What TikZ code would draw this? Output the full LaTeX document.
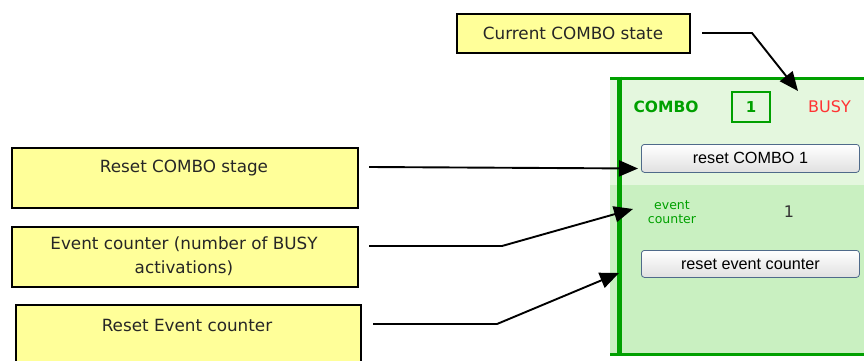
\documentclass[tikz,border=0pt]{standalone}
\usepackage{fontspec}
\setmainfont{DejaVu Sans}
\newfontfamily\btnfont{Liberation Sans}
\usetikzlibrary{arrows.meta,calc}
\definecolor{note}{HTML}{FFFF99}
\definecolor{cgreen}{HTML}{00A000}
\definecolor{panelA}{HTML}{E4F7DE}
\definecolor{panelB}{HTML}{C9F0C1}
\definecolor{busyred}{HTML}{FF3333}
\definecolor{btnborder}{HTML}{4F6A8A}
\definecolor{darktext}{HTML}{333333}
\begin{document}
\begin{tikzpicture}[x=1pt,y=-1pt,
  notebox/.style={draw=black, line width=1.8pt, fill=note, inner sep=0pt, anchor=north west},
  notetext/.style={font=\fontsize{16.8}{24}\selectfont, align=center, inner sep=0pt, text=black!85},
  callout/.style={line width=1.9pt, -{Triangle[length=19pt,width=16pt]}},
  button/.style={draw=btnborder, line width=0.8pt, rounded corners=3pt, top color=white, bottom color=black!12, inner sep=0pt, anchor=north west, font=\btnfont\fontsize{16.2}{18}\selectfont}
]
\useasboundingbox (0,0) rectangle (864,361);
\clip (0,0) rectangle (864,361);

% panel
\fill[panelA] (610,77) rectangle (864,185);
\fill[panelB] (610,185) rectangle (864,356);
\draw[cgreen, line width=3pt] (610,78) -- (864,78);
\draw[cgreen, line width=3pt] (610,354) -- (864,354);
\draw[cgreen, line width=4.5pt] (619.5,76.5) -- (619.5,355.5);

% panel contents
\node[font=\bfseries\fontsize{15.5}{18}\selectfont, text=cgreen, inner sep=0pt] (combo) at (666,107) {COMBO};
\node[draw=cgreen, line width=2pt, minimum width=38pt, minimum height=30pt, inner sep=0pt,
      font=\bfseries\fontsize{15}{18}\selectfont, text=cgreen] (stage) at (751,107) {1};
\node[font=\fontsize{16}{18}\selectfont, text=busyred, inner sep=0pt] (busy) at (829.5,107) {BUSY};
\node[button, minimum width=218pt, minimum height=28pt] (btncombo) at (641,144) {reset COMBO 1};
\node[font=\fontsize{12.5}{14}\selectfont, text=cgreen, align=center, inner sep=0pt] (evlabel) at (672,212) {event\\counter};
\node[font=\fontsize{16}{18}\selectfont, text=darktext, inner sep=0pt] (evcount) at (789,212) {1};
\node[button, minimum width=218pt, minimum height=27pt] (btnevent) at (641,250) {reset event counter};

% note boxes
\node[notebox, minimum width=233pt, minimum height=39pt] (curbox) at (456,13) {};
\node[notetext] (curtext) at (573,33) {Current COMBO state};
\node[notebox, minimum width=346pt, minimum height=60pt] (rcbox) at (11,147) {};
\node[notetext] (rctext) at (184,168) {Reset COMBO stage};
\node[notebox, minimum width=346pt, minimum height=60pt] (ecbox) at (11,226) {};
\node[notetext] (ectext) at (184,256.5) {Event counter (number of BUSY\\activations)};
\node[notebox, minimum width=345pt, minimum height=65pt] (rebox) at (15,304) {};
\node[notetext] (retext) at (187,325) {Reset Event counter};

% connector ends
\coordinate (c1s) at (702,33);
\coordinate (c1m) at (752,33);
\coordinate (c1t) at (798,91);
\coordinate (c2s) at (369,167);
\coordinate (c2t) at (638,168.5);
\coordinate (c3s) at (369,246);
\coordinate (c3m) at (502,246);
\coordinate (c3t) at (633,209);
\coordinate (c4s) at (373,324);
\coordinate (c4m) at (497,324);
\coordinate (c4t) at (619,273);

\draw[callout] (c1s) -- (c1m) -- (c1t);
\draw[callout] (c2s) -- (c2t);
\draw[callout] (c3s) -- (c3m) -- (c3t);
\draw[callout] (c4s) -- (c4m) -- (c4t);
\end{tikzpicture}
\end{document}
